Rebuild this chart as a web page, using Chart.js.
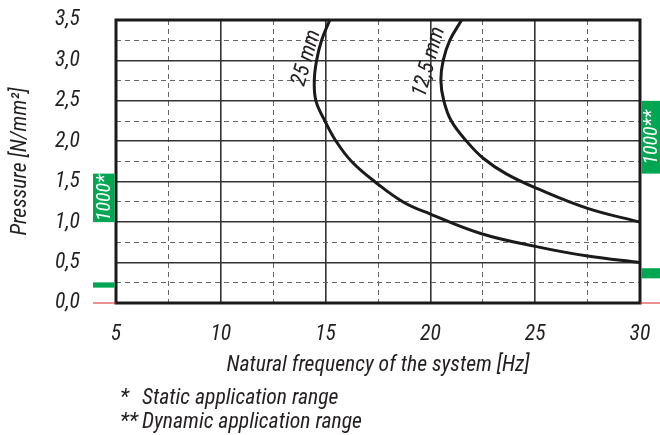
<!DOCTYPE html>
<html>
<head>
<meta charset="utf-8">
<script src="https://cdn.jsdelivr.net/npm/chart.js@4.4.1/dist/chart.umd.min.js"></script>
<style>
  html, body { margin: 0; padding: 0; background: #fff; }
  #wrap { width: 660px; height: 435px; }
</style>
</head>
<body>
<div id="wrap"><canvas id="chart" width="660" height="435"></canvas></div>
<script>
// Curves: natural frequency [Hz] vs pressure [N/mm²]
const freq25 = [15.2, 14.81, 14.57, 14.46, 14.54, 14.97, 15.5, 16.24, 17.35, 18.7, 20.0, 22.4, 25.0, 27.5, 30.0];
const pressure25 = [3.5, 3.25, 3.0, 2.75, 2.5, 2.25, 2.0, 1.75, 1.5, 1.25, 1.1, 0.86, 0.70, 0.58, 0.5];
const freq125 = [21.49, 20.93, 20.61, 20.5, 20.64, 21.0, 21.73, 22.52, 23.6, 25.05, 27.5, 30.0];
const pressure125 = [3.5, 3.25, 3.0, 2.75, 2.5, 2.25, 2.0, 1.79, 1.6, 1.42, 1.17, 1.0];

// Tick labels
const xTicks = [5, 10, 15, 20, 25, 30];
const yTicks = [0, 0.5, 1.0, 1.5, 2.0, 2.5, 3.0, 3.5];

// Application ranges (pressure from / to)
const staticBand = [1.0, 1.6];
const staticBandLow = [0.19, 0.255];
const dynamicBand = [1.6, 2.5];
const dynamicBandLow = [0.305, 0.43];
const bandLabels = ['1000*', '1000**'];

// Curve captions, placed in data coordinates
const curveLabels = ['25 mm', '12,5 mm'];
const curveLabelFreq = [14.1, 19.95];
const curveLabelPressure = [3.03, 2.98];

const xTitle = 'Natural frequency of the system [Hz]';
const yTitle = 'Pressure [N/mm²]';
const footnotes = [['*', 'Static application range'], ['**', 'Dynamic application range']];

// Prefer a condensed face; size everything so the x title is as wide as in the original
const probe = document.createElement('canvas').getContext('2d');
function hasFont(name) {
    const s = 'Natural frequency 0123456789';
    probe.font = '40px monospace';
    const a = probe.measureText(s).width;
    probe.font = `40px '${name}', monospace`;
    return probe.measureText(s).width !== a;
}
const found = ['Liberation Sans Narrow', 'Roboto Condensed', 'DejaVu Sans Condensed'].find(hasFont);
const FAMILY = found ? `'${found}', sans-serif` : "'Liberation Sans', Arial, sans-serif";
probe.font = `italic 22px ${FAMILY}`;
const K = 304 / probe.measureText(xTitle).width;
const fs = n => Math.round(n * K * 10) / 10;
const TEXT = '#231f20';
const GREEN = '#00a651';

Chart.defaults.font.family = FAMILY;
Chart.defaults.font.style = 'italic';
Chart.defaults.color = TEXT;

const isMajorX = v => xTicks.includes(v);
const isMajorY = v => yTicks.includes(v);

const fmt = v => v.toFixed(1).replace('.', ',');

const decorations = {
    id: 'decorations',
    afterDatasetsDraw(chart) {
        const { ctx, chartArea: a, scales: { x, y } } = chart;
        ctx.save();
        // curve captions
        ctx.fillStyle = TEXT;
        ctx.font = `italic ${fs(22)}px ${FAMILY}`;
        ctx.textAlign = 'center';
        ctx.textBaseline = 'middle';
        curveLabels.forEach((t, i) => {
            ctx.save();
            ctx.translate(x.getPixelForValue(curveLabelFreq[i]), y.getPixelForValue(curveLabelPressure[i]));
            ctx.rotate(-74 * Math.PI / 180);
            ctx.fillText(t, 0, 0);
            ctx.restore();
        });
        // heavy frame
        ctx.strokeStyle = '#1a1a1a';
        ctx.lineWidth = 3;
        ctx.strokeRect(a.left, a.top, a.right - a.left, a.bottom - a.top);
        ctx.restore();
    },
    afterDraw(chart) {
        const { ctx, chartArea: a, scales: { y } } = chart;
        const leftX0 = a.left - 23, leftX1 = a.left - 1.5;
        const rightX0 = a.right + 1.5, rightX1 = chart.width;
        ctx.save();
        ctx.fillStyle = GREEN;
        const band = (x0, x1, r) => {
            const top = y.getPixelForValue(r[1]);
            const bot = y.getPixelForValue(r[0]);
            ctx.fillRect(x0, top, x1 - x0, bot - top);
            return [(x0 + x1) / 2, (top + bot) / 2];
        };
        const c1 = band(leftX0, leftX1, staticBand);
        band(leftX0, leftX1, staticBandLow);
        const c2 = band(rightX0, rightX1, dynamicBand);
        band(rightX0, rightX1, dynamicBandLow);

        ctx.fillStyle = '#fff';
        ctx.font = `italic ${fs(20)}px ${FAMILY}`;
        ctx.textAlign = 'center';
        ctx.textBaseline = 'middle';
        [[c1, bandLabels[0]], [c2, bandLabels[1]]].forEach(([c, t]) => {
            ctx.save();
            ctx.translate(c[0] + 1, c[1]);
            ctx.rotate(-Math.PI / 2);
            ctx.fillText(t, 0, 0);
            ctx.restore();
        });

        // zero line stubs outside the frame
        const y0 = y.getPixelForValue(0);
        ctx.strokeStyle = '#d2232a';
        ctx.lineWidth = 1;
        ctx.beginPath();
        ctx.moveTo(leftX0, y0); ctx.lineTo(a.left, y0);
        ctx.moveTo(a.right, y0); ctx.lineTo(rightX1, y0);
        ctx.stroke();

        // footnotes
        ctx.fillStyle = TEXT;
        ctx.font = `italic ${fs(22)}px ${FAMILY}`;
        ctx.textAlign = 'left';
        ctx.textBaseline = 'alphabetic';
        footnotes.forEach(([mark, text], i) => {
            const by = 404 + i * 24;
            ctx.fillText(mark, a.left + 4, by);
            ctx.fillText(text, a.left + 26, by);
        });
        ctx.restore();
    }
};

const toPoints = (xs, ys) => xs.map((f, i) => ({ x: f, y: ys[i] }));

new Chart(document.getElementById('chart'), {
    type: 'scatter',
    data: {
        datasets: [
            {
                label: '25 mm',
                data: toPoints(freq25, pressure25),
                showLine: true,
                borderColor: '#1a1a1a',
                borderWidth: 3,
                pointRadius: 0,
                tension: 0.4
            },
            {
                label: '12,5 mm',
                data: toPoints(freq125, pressure125),
                showLine: true,
                borderColor: '#1a1a1a',
                borderWidth: 3,
                pointRadius: 0,
                tension: 0.4
            }
        ]
    },
    options: {
        responsive: false,
        animation: false,
        layout: { padding: { left: 0, top: 20, right: 20, bottom: 0 } },
        plugins: {
            legend: { display: false },
            tooltip: { enabled: false }
        },
        scales: {
            x: {
                type: 'linear',
                min: 5,
                max: 30,
                afterFit: s => {
                    s.height = 132;
                    s.paddingLeft = 0;
                    s.paddingRight = 0;
                },
                ticks: {
                    stepSize: 2.5,
                    padding: 19,
                    maxRotation: 0,
                    autoSkip: false,
                    font: { size: fs(22) },
                    callback: v => isMajorX(v) ? String(v) : ''
                },
                grid: {
                    drawTicks: false,
                    color: c => c.tick && isMajorX(c.tick.value) ? '#333' : '#666',
                    lineWidth: c => c.tick && isMajorX(c.tick.value) ? 1.6 : 1
                },
                border: {
                    display: false,
                    dash: c => c.tick && !isMajorX(c.tick.value) ? [5, 4] : []
                },
                title: {
                    display: true,
                    text: xTitle,
                    font: { size: fs(22) },
                    padding: { top: 0, bottom: 56 }
                }
            },
            y: {
                type: 'linear',
                min: 0,
                max: 3.5,
                afterFit: s => {
                    s.width = 116;
                    s.paddingTop = 0;
                    s.paddingBottom = 0;
                },
                ticks: {
                    stepSize: 0.25,
                    padding: 36,
                    autoSkip: false,
                    font: { size: fs(22) },
                    callback: v => isMajorY(v) ? fmt(v) : ''
                },
                grid: {
                    drawTicks: false,
                    color: c => c.tick && isMajorY(c.tick.value) ? '#333' : '#666',
                    lineWidth: c => c.tick && isMajorY(c.tick.value) ? 1.6 : 1
                },
                border: {
                    display: false,
                    dash: c => c.tick && !isMajorY(c.tick.value) ? [5, 4] : []
                },
                title: {
                    display: true,
                    text: yTitle,
                    font: { size: fs(22) },
                    padding: { top: 8, bottom: 0 }
                }
            }
        }
    },
    plugins: [decorations]
});
</script>
</body>
</html>
